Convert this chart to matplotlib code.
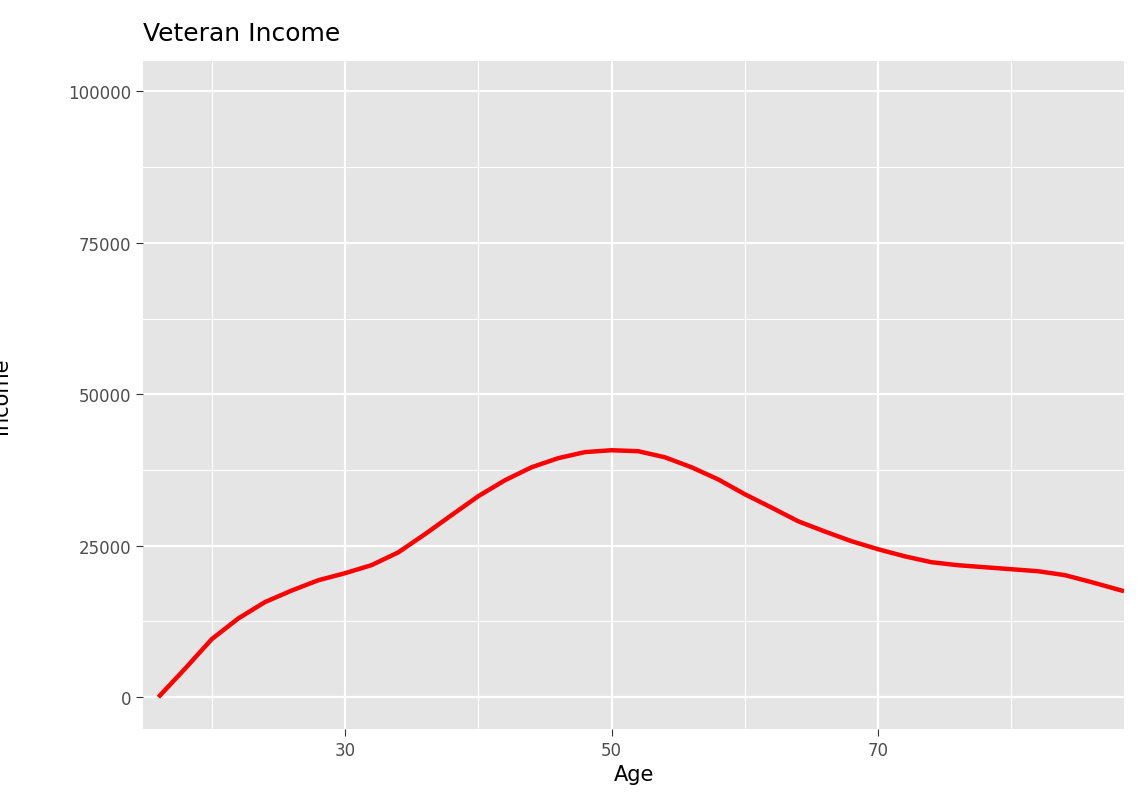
import matplotlib
matplotlib.use("Agg")
import matplotlib.pyplot as plt

age = [16, 18, 20, 22, 24, 26, 28, 30, 32, 34, 36, 38, 40, 42, 44, 46, 48, 50, 52, 54, 56, 58, 60,
       62, 64, 66, 68, 70, 72, 74, 76, 78, 80, 82, 84, 86, 88.45]
income = [0, 4700, 9570, 13000, 15700, 17600, 19300, 20460, 21800, 23900, 26900, 30050, 33170, 35800,
          37950, 39450, 40450, 40760, 40600, 39600, 37950, 35950, 33500, 31300, 29040, 27350, 25750,
          24420, 23250, 22280, 21780, 21450, 21120, 20790, 20150, 19000, 17490]

fig = plt.figure(figsize=(11.38, 8.12), dpi=100)
ax = fig.add_axes([0.1257, 0.101, 0.862, 0.8226])
ax.set_facecolor("#E5E5E5")
ax.set_xlim(14.85, 88.45)
ax.set_ylim(-5250, 105000)
ax.set_xticks([30, 50, 70])
ax.set_xticks([20, 40, 60, 80], minor=True)
ax.set_yticks([0, 25000, 50000, 75000, 100000])
ax.set_yticks([12500, 37500, 62500, 87500], minor=True)
ax.set_yticklabels(["0", "25000", "50000", "75000", "100000"])
ax.grid(which="major", color="white", lw=1.6)
ax.grid(which="minor", color="white", lw=0.8)
ax.set_axisbelow(True)
for s in ax.spines.values():
    s.set_visible(False)
ax.tick_params(which="major", length=5, color="#333333", labelsize=12, labelcolor="#4D4D4D")
ax.tick_params(which="minor", length=0)
ax.plot(age, income, color="red", lw=3.2, solid_capstyle="butt", solid_joinstyle="round")
ax.set_xlabel("Age", fontsize=15, labelpad=4)
ax.set_ylabel("Income", fontsize=15, labelpad=8)
ax.yaxis.set_label_coords(-0.135, 0.5)
fig.text(0.1257, 0.95, "Veteran Income", fontsize=18)
fig.savefig("out.png", dpi=100)
